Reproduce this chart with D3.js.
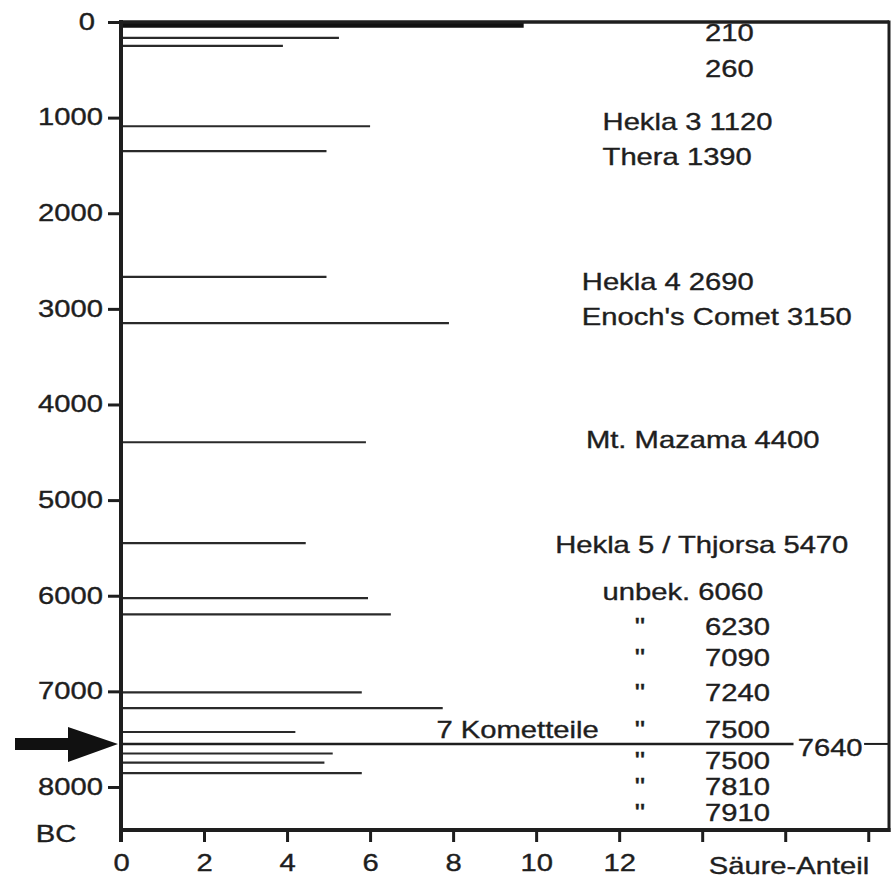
<!DOCTYPE html>
<html>
<head>
<meta charset="utf-8">
<script src="https://cdn.jsdelivr.net/npm/d3@7"></script>
<style>
  html, body { margin: 0; padding: 0; background: #fff; }
  svg { display: block; }
  text { font-family: "Liberation Sans", Arial, sans-serif; fill: #1e1e1e; stroke: #1e1e1e; stroke-width: 0.35; }
</style>
</head>
<body>
<svg id="chart" width="896" height="883"></svg>
<script>
// ---- data ----
const yearTicks = [0, 1000, 2000, 3000, 4000, 5000, 6000, 7000, 8000];
const acidTicks = [0, 2, 4, 6, 8, 10, 12, 14, 16, 18];
const acidTickLabels = ["0", "2", "4", "6", "8", "10", "12", "", "", ""];
const eventYears  = [30, 165, 250, 1090, 1350, 2665, 3150, 4395, 5450, 6025, 6195, 7010, 7175, 7425, 7650, 7745, 7855];
const acidValues  = [9.7, 5.25, 3.9, 6.0, 4.95, 4.95, 7.9, 5.9, 4.45, 5.95, 6.5, 5.8, 7.75, 4.2, 5.1, 4.9, 5.8];
const cometYear = 7550;
const cometExtent = 16.2;
const labelTexts = ["210", "260", "Hekla 3 1120", "Thera 1390", "Hekla 4 2690", "Enoch's Comet 3150",
  "Mt. Mazama 4400", "Hekla 5 / Thjorsa 5470", "unbek. 6060", "6230", "7090", "7240", "7500",
  "7 Kometteile", "7640", "7500", "7810", "7910"];
const labelYears = [115, 492, 1046, 1412, 2720, 3086, 4372, 5471, 5962, 6328, 6653, 7019, 7406,
  7406, 7594, 7730, 8002, 8274];
const labelAcid = [14.07, 14.07, 11.6, 11.6, 11.1, 11.1, 11.2, 10.46, 11.6, 14.07, 14.07, 14.07, 14.07,
  7.6, 16.3, 14.07, 14.07, 14.07];
const dittoYears = [6328, 6653, 7019, 7406, 7730, 8002, 8274];
const dittoAcid = 12.5;

// ---- layout ----
const SX = 1.27;          // horizontal stretch of the scanned lettering
const FS = 23;
const svg = d3.select("#chart");
const x = d3.scaleLinear().domain([0, 18.5]).range([121, 889]);
const y = d3.scaleLinear().domain([0, 8450]).range([22, 830]);
const ink = "#1e1e1e";

// bars
svg.append("g").selectAll("line").data(eventYears).join("line")
  .attr("x1", x(0)).attr("x2", (d, i) => x(acidValues[i]))
  .attr("y1", d => y(d)).attr("y2", d => y(d))
  .attr("stroke", (d, i) => i === 0 ? "#111" : "#2a2a2a")
  .attr("stroke-width", (d, i) => i === 0 ? 6 : 2.2);

// comet line
svg.append("line").attr("x1", x(0)).attr("x2", x(cometExtent))
  .attr("y1", y(cometYear)).attr("y2", y(cometYear))
  .attr("stroke", "#1e1e1e").attr("stroke-width", 2.6);
svg.append("line").attr("x1", x(17.9)).attr("x2", x(18.5))
  .attr("y1", y(cometYear)).attr("y2", y(cometYear))
  .attr("stroke", "#1e1e1e").attr("stroke-width", 2);

// left axis
const gy = svg.append("g").attr("transform", `translate(${x(0)},0)`)
  .call(d3.axisLeft(y).tickValues(yearTicks).tickSize(13).tickPadding(5).tickFormat(d3.format("d")));
gy.select(".domain").remove();
gy.selectAll(".tick line").attr("stroke", ink).attr("stroke-width", 3);
gy.selectAll(".tick text")
  .attr("font-size", FS).attr("fill", ink)
  .attr("font-family", "Liberation Sans, Arial, sans-serif")
  .attr("x", d => (d === 0 ? -26 : -18) / SX)
  .attr("transform", `scale(${SX},1)`);

// bottom axis
const gx = svg.append("g").attr("transform", `translate(0,${y.range()[1]})`)
  .call(d3.axisBottom(x).tickValues(acidTicks).tickSize(12).tickPadding(13)
    .tickFormat((d, i) => acidTickLabels[i]));
gx.select(".domain").remove();
gx.selectAll(".tick line").attr("stroke", ink).attr("stroke-width", 3);
gx.selectAll(".tick text")
  .attr("font-size", FS).attr("fill", ink)
  .attr("font-family", "Liberation Sans, Arial, sans-serif")
  .attr("transform", `scale(${SX},1)`);

// frame
const [x0, x1] = [x(0), x.range()[1]];
const [y0, y1] = y.range();
svg.append("line").attr("x1", x0).attr("x2", x1).attr("y1", y0).attr("y2", y0).attr("stroke", ink).attr("stroke-width", 3.5);
svg.append("line").attr("x1", x1).attr("x2", x1).attr("y1", y0 - 1.5).attr("y2", y1 + 2).attr("stroke", ink).attr("stroke-width", 3);
svg.append("line").attr("x1", x0 - 2).attr("x2", x1 + 1.5).attr("y1", y1).attr("y2", y1).attr("stroke", ink).attr("stroke-width", 4);
svg.append("line").attr("x1", x0).attr("x2", x0).attr("y1", y0 - 2).attr("y2", y1 + 12).attr("stroke", ink).attr("stroke-width", 4);

// helper for stretched text
function stretched(g, px, py, str, anchor) {
  g.append("g").attr("transform", `translate(${px},${py}) scale(${SX},1)`)
    .append("text").attr("font-size", FS).attr("dominant-baseline", "central")
    .attr("text-anchor", anchor || "start").text(str);
}

// annotations
const ga = svg.append("g");
labelTexts.forEach((t, i) => stretched(ga, x(labelAcid[i]), y(labelYears[i]), t));
dittoYears.forEach(d => stretched(ga, x(dittoAcid), y(d), "\"", "middle"));

// axis titles
stretched(svg, 56, 834, "BC", "middle");
stretched(svg, 789, 866, "Säure-Anteil", "middle");

// arrow
const ay = y(cometYear), ax = x(0) - 3;
svg.append("path")
  .attr("d", `M${ax},${ay} L${ax - 50},${ay - 17} L${ax - 50},${ay - 6} L15,${ay - 6} L15,${ay + 6} L${ax - 50},${ay + 6} L${ax - 50},${ay + 18} Z`)
  .attr("fill", "#111");
</script>
</body>
</html>
